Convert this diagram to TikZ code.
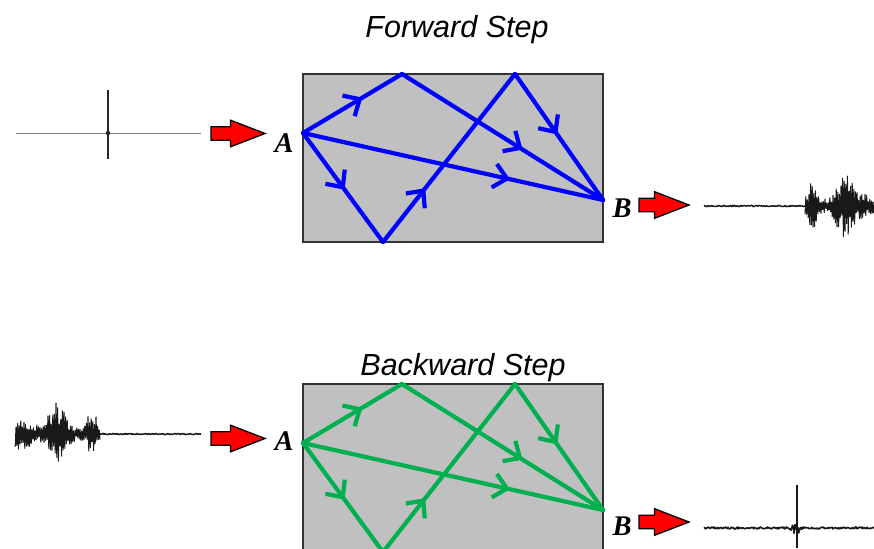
\documentclass[tikz,border=0pt]{standalone}
\usepackage{fontspec}
\setsansfont{Liberation Sans}
\setmainfont{Liberation Serif}
\usetikzlibrary{arrows.meta,decorations.markings}
\definecolor{boxgray}{RGB}{192,192,192}
\definecolor{raygreen}{RGB}{0,176,80}
\definecolor{rayblue}{RGB}{0,0,255}
\definecolor{arrred}{RGB}{255,0,0}
\begin{document}
\begin{tikzpicture}[x={(1pt,0pt)}, y={(0pt,-1pt)},
  roombox/.style={fill=boxgray, draw=black!80, line width=1.4pt},
  ray/.style={line width=4.2pt, line cap=round, line join=round},
  raymark/.style={postaction={decorate, decoration={markings, mark=at position #1 with {\arrow{Straight Barb[length=13pt,width=24pt]}}}}},
  title/.style={font=\fontsize{30.5}{36}\selectfont\sffamily\itshape, inner sep=0pt, anchor=base},
  ptlabel/.style={font=\fontsize{28.5}{32}\selectfont\rmfamily\bfseries\itshape, inner sep=0pt, anchor=base},
  arrowfill/.style={fill=arrred, draw=black, line width=1.3pt, line join=miter},
  pics/redarrow/.style={code={\draw[arrowfill] (0,-6.7) -- (#1-34.5,-6.7) -- (#1-34.5,-13.3) -- (#1,0) -- (#1-34.5,13.3) -- (#1-34.5,6.7) -- (0,6.7) -- cycle;}},
  wave/.style={line width=1.0pt, draw=black!90, line join=round},
  declare function={
    envF(\d)=6+19*exp(-((\d-7)/6)^2)+26*exp(-((\d-40)/11)^2)+6*exp(-((\d-62)/10)^2);
    envB(\d)=6+18*exp(-((\d-8)/6)^2)+27*exp(-((\d-43)/10)^2)+10*exp(-((\d-80)/15)^2);
  }
]
\clip (0,0) rectangle (874,548);
\fill[white] (0,0) rectangle (874,548);
\pgfmathsetseed{7}

% titles
\node[title] (t1) at (457,38) {Forward Step};
\node[title] (t2) at (463,375) {Backward Step};

% rooms with rays
\foreach \p/\c/\dy in {1/rayblue/0,2/raygreen/310}{
  \begin{scope}[shift={(0,\dy)}]
    \path[roombox] (303,74) rectangle (603,242);
    \coordinate (A\p) at (303,133);
    \coordinate (B\p) at (603,200);
    \coordinate (Pa\p) at (402,74);
    \coordinate (Pb\p) at (515,74);
    \coordinate (Pc\p) at (383,242);
    \draw[ray,\c,raymark=0.6] (A\p) -- (Pa\p);
    \draw[ray,\c,raymark=0.6] (Pa\p) -- (B\p);
    \draw[ray,\c,raymark=0.69] (A\p) -- (B\p);
    \draw[ray,\c,raymark=0.52] (A\p) -- (Pc\p);
    \draw[ray,\c,raymark=0.32] (Pc\p) -- (Pb\p);
    \draw[ray,\c,raymark=0.48] (Pb\p) -- (B\p);
  \end{scope}
}

% labels
\node[ptlabel] (la1) at (284,153) {A};
\node[ptlabel] (lb1) at (622,217) {B};
\node[ptlabel] (la2) at (284,450) {A};
\node[ptlabel] (lb2) at (622,535) {B};

% red arrows
\pic (ra1) at (211,133.5) {redarrow=54};
\pic (rb1) at (639,205) {redarrow=50};
\pic (ra2) at (211,438.5) {redarrow=54};
\pic (rb2) at (639,522) {redarrow=50};

% top-left impulse
\draw[line width=0.7pt, gray] (16,133) -- (201,133);
\draw[line width=2.4pt, black!85] (108,90) -- (108,159);
\fill[black!85] (108,133) circle (2.2);

% top-right received signal
\draw[wave, line width=1.5pt] plot[variable=\t, domain=704:806, samples=120] (\t, {206+0.6*rand});
\draw[wave] plot[variable=\t, domain=0:86, samples=87]
  ({805+0.8*\t}, {206+envF(0.8*\t)*(0.3+0.7*rnd)*cos(180*mod(\t,2))});

% bottom-left reversed signal
\draw[wave, line width=1.5pt] plot[variable=\t, domain=99:201, samples=120] (\t, {434+0.6*rand});
\draw[wave] plot[variable=\t, domain=0:106, samples=107]
  ({100-0.8*\t}, {434+envB(0.8*\t)*(0.3+0.7*rnd)*cos(180*mod(\t,2))});

% bottom-right refocused signal
\draw[wave, line width=1.6pt] plot[variable=\t, domain=704:874, samples=220]
  (\t, {528+(1.0+7*exp(-((\t-796)/4)^2))*rand});
\draw[line width=2pt, black!90] (797,485) -- (797,548);
\end{tikzpicture}
\end{document}
